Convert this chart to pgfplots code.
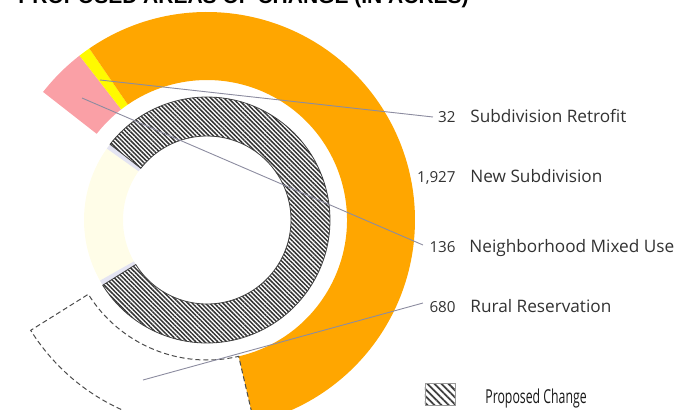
\documentclass[border=0pt]{standalone}
\usepackage{fontspec}
\setmainfont{Open Sans}
\newfontfamily\titlefont{Liberation Sans}
\usepackage{pgfplots}
\pgfplotsset{compat=1.18}
\usetikzlibrary{patterns.meta}
\definecolor{cOrange}{RGB}{255,166,0}
\definecolor{cYellow}{RGB}{255,250,0}
\definecolor{cPink}{RGB}{250,160,166}
\definecolor{cPale}{RGB}{255,253,232}
\definecolor{cLav}{RGB}{228,228,242}
\definecolor{cLead}{RGB}{140,140,160}
\definecolor{cText}{RGB}{50,50,50}
% values (acres)
\def\vMixed{136}
\def\vRetrofit{32}
\def\vNewSub{1927}
\def\vRural{680}
\def\vOther{670}
\pgfmathsetmacro\tot{\vMixed+\vRetrofit+\vNewSub+\vRural+\vOther}
\pgfmathsetmacro\kk{360/\tot}
\pgfmathsetmacro\aA{142}
\pgfmathsetmacro\aB{\aA-\vMixed*\kk}
\pgfmathsetmacro\aC{\aB-\vRetrofit*\kk}
\pgfmathsetmacro\aD{\aC-\vNewSub*\kk}
\pgfmathsetmacro\aE{\aD-\vRural*\kk}
\pgfmathsetmacro\aF{\aE-\vOther*\kk}
\newcommand\sector[5]{\path[#1] (#4:#3) arc[start angle=#4, end angle=#5, radius=#3] -- (#5:#2) arc[start angle=#5, end angle=#4, radius=#2] -- cycle;}
\begin{document}
\begin{tikzpicture}
\useasboundingbox (0,0) rectangle (338.5pt,204.5pt);
\clip (0,0) rectangle (338.5pt,204.5pt);
\begin{axis}[at={(0,0)}, anchor=south west, scale only axis, width=338.5pt, height=204.5pt,
  xmin=0, xmax=677, ymin=0, ymax=409, hide axis, clip=false]
\begin{scope}[shift={(axis cs:207,189)}, x=0.5pt, y=0.5pt]
 % outer ring
 \sector{fill=cPink}{140}{208}{\aA}{\aB}
 \sector{fill=cYellow}{140}{208}{\aB}{\aC}
 \sector{fill=cOrange}{140}{208}{\aC}{\aD}
 \sector{draw=black!70, dash pattern=on 2.5pt off 1.5pt, line width=0.5pt}{140}{208}{\aD}{\aE}
 % inner ring
 \sector{fill=cPale}{84}{123}{\aE}{\aF}
 \sector{fill=cLav}{84}{123}{\aA+2.5}{\aA}
 \sector{fill=cLav}{84}{123}{\aE}{\aE-2.5}
 \sector{fill=white, draw=black!75, line width=0.4pt, pattern={Lines[angle=-45, distance=1.55pt, line width=0.75pt]}, pattern color=black!80}{84}{123}{\aA}{\aE}
\end{scope}
% leader lines
\draw[cLead, line width=0.45pt] (axis cs:100,329) -- (axis cs:433,292);
\draw[cLead, line width=0.45pt] (axis cs:82,311) -- (axis cs:423,164);
\draw[cLead, line width=0.45pt] (axis cs:143,29) -- (axis cs:423,106);
% labels
\begin{scope}[every node/.style={inner sep=0pt, text=cText}]
\node[anchor=base east, font=\fontsize{7.6}{9}\selectfont] at (axis cs:456,287) {32};
\node[anchor=base west, font=\fontsize{8.6}{11}\selectfont] at (axis cs:470,287) {Subdivision Retrofit};
\node[anchor=base east, font=\fontsize{7.6}{9}\selectfont] at (axis cs:456,227) {1,927};
\node[anchor=base west, font=\fontsize{8.6}{11}\selectfont] at (axis cs:470,227) {New Subdivision};
\node[anchor=base east, font=\fontsize{7.6}{9}\selectfont] at (axis cs:456,157) {136};
\node[anchor=base west, font=\fontsize{8.6}{11}\selectfont] at (axis cs:469,157) {Neighborhood Mixed Use};
\node[anchor=base east, font=\fontsize{7.6}{9}\selectfont] at (axis cs:456,97) {680};
\node[anchor=base west, font=\fontsize{8.6}{11}\selectfont] at (axis cs:470,97) {Rural Reservation};
% legend
\path[draw=black!40, line width=0.3pt, pattern={Lines[angle=-45, distance=2.5pt, line width=0.9pt]}, pattern color=black!75] (axis cs:425,4) rectangle (axis cs:455,26);
\node[anchor=base west, text=black!90, font=\fontsize{9.6}{11}\selectfont] at (axis cs:485,6) {\scalebox{0.64}[1]{Proposed Change}};
% title
\node[anchor=base west, text=black, font=\titlefont\bfseries\fontsize{10.5}{12}\selectfont] at (axis cs:18,406) {PROPOSED AREAS OF CHANGE (IN ACRES)};
\end{scope}
\end{axis}
\end{tikzpicture}
\end{document}
